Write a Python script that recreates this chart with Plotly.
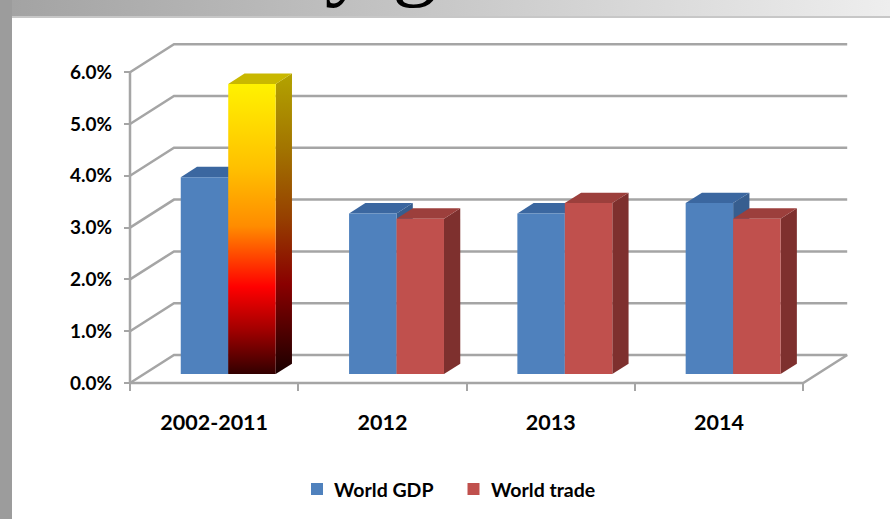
import plotly.graph_objects as go

# ---- data -------------------------------------------------------------
categories = ["2002-2011", "2012", "2013", "2014"]
world_gdp = [3.8, 3.1, 3.1, 3.3]      # % growth
world_trade = [5.6, 3.0, 3.3, 3.0]    # % growth
y_ticks = [0, 1, 2, 3, 4, 5, 6]
y_tick_labels = [f"{v:.1f}%" for v in y_ticks]
series_names = ["World GDP", "World trade"]

# ---- geometry ---------------------------------------------------------
W, H = 890, 519
X_RANGE = [-1.2724, 4.0157]   # one category = 168.3 px
Y_RANGE = [-2.6255, 7.3938]   # 1 % = 51.8 px

DX, DY = 0.2614, 0.5405       # depth vector of the 3-D box (data units)
F_FRONT, F_BACK = 0.32, 0.69  # bars sit in the middle of the depth
BAR_W = 0.282
X0, X1 = -0.5, len(categories) - 0.5

GRID = "#a5a5a5"
FONT = "Lato"

BLUE = dict(front="#4f81bd", top="#3b67a0", side="#375e8f")
RED = dict(front="#c0504d", top="#9c3f3c", side="#7e302e")
FIRE = dict(
    front=[[0, "#320000"], [0.15, "#a00000"], [0.30, "#ff0000"],
           [0.51, "#ff8c00"], [0.71, "#ffc000"], [1, "#fff200"]],
    side=[[0, "#1a0000"], [0.30, "#8a0000"], [0.52, "#964000"],
          [0.75, "#a27400"], [1, "#b3a300"]],
    top="#c9b800",
)


def xd(px):
    return X_RANGE[0] + px / W * (X_RANGE[1] - X_RANGE[0])


def yd(py):
    return Y_RANGE[1] - py / H * (Y_RANGE[1] - Y_RANGE[0])


fig = go.Figure()


def line(xs, ys, color=GRID, width=2.5):
    fig.add_trace(go.Scatter(x=xs, y=ys, mode="lines",
                             line=dict(color=color, width=width),
                             hoverinfo="skip", showlegend=False))


def poly(xs, ys, color=None, gradient=None, lo=None, hi=None, kind="vertical"):
    kw = dict(fill="toself", mode="lines", line=dict(width=0),
              hoverinfo="skip", showlegend=False)
    if gradient is not None:
        grad = dict(type=kind, colorscale=gradient)
        if lo is not None:
            grad.update(start=lo, stop=hi)
        kw["fillgradient"] = grad
        kw["fillcolor"] = gradient[-1][1]
    else:
        kw["fillcolor"] = color
    fig.add_trace(go.Scatter(x=xs + xs[:1], y=ys + ys[:1], **kw))


# window frame band at the top
poly([xd(0), xd(W), xd(W), xd(0)], [yd(0), yd(0), yd(16), yd(16)],
     gradient=[[0, "#a2a2a2"], [1, "#eeeeee"]], kind="horizontal")
line([xd(12), xd(W)], [yd(17), yd(17)], color="#b4b4b4", width=1.5)

# back wall grid lines with the diagonals on the side wall
for v in y_ticks:
    line([X0, X0 + DX, X1 + DX], [v, v + DY, v + DY])

# floor and front edges
line([X0, X1, X1 + DX], [0, 0, DY])
line([X0, X0], [0, y_ticks[-1]])


def box(xl, xr, v, style, gradient=False):
    b = F_FRONT * DY
    ddx = (F_BACK - F_FRONT) * DX
    ddy = (F_BACK - F_FRONT) * DY
    side_x = [xr, xr + ddx, xr + ddx, xr]
    side_y = [b, b + ddy, b + v + ddy, b + v]
    top_x = [xl, xr, xr + ddx, xl + ddx]
    top_y = [b + v, b + v, b + v + ddy, b + v + ddy]
    front_x = [xl, xr, xr, xl]
    front_y = [b, b, b + v, b + v]
    if gradient:
        poly(side_x, side_y, gradient=style["side"], lo=b, hi=b + v + ddy)
        poly(top_x, top_y, color=style["top"])
        poly(front_x, front_y, gradient=style["front"], lo=b, hi=b + v)
    else:
        poly(side_x, side_y, color=style["side"])
        poly(top_x, top_y, color=style["top"])
        poly(front_x, front_y, color=style["front"])


for i, (g, t) in enumerate(zip(world_gdp, world_trade)):
    c = i + F_FRONT * DX
    box(c - BAR_W, c, g, BLUE)
    if i == 0:
        box(c, c + BAR_W, t, FIRE, gradient=True)
    else:
        box(c, c + BAR_W, t, RED)

# legend keys and labels below the chart
legend_key_px = [317, 473.5]
legend_text_px = [332, 489]
legend_notes = []
for name, col, kx, tx in zip(series_names, [BLUE["front"], RED["front"]],
                             legend_key_px, legend_text_px):
    fig.add_trace(go.Scatter(x=[xd(kx)], y=[yd(489)], mode="markers",
                             marker=dict(symbol="square", size=12, color=col),
                             hoverinfo="skip", showlegend=False))
    legend_notes.append(dict(text=name, x=xd(tx), y=yd(489), xref="x", yref="y",
                             xanchor="left", yanchor="middle", showarrow=False,
                             font=dict(family=FONT, size=19.5, color="black",
                                       weight="bold")))

fig.update_layout(
    width=W, height=H,
    margin=dict(l=0, r=0, t=0, b=0),
    paper_bgcolor="white", plot_bgcolor="white",
    showlegend=False,
    xaxis=dict(range=X_RANGE, anchor="free", position=(H - 383) / H,
               showgrid=False, zeroline=False, showline=False,
               tickmode="array", tickvals=list(range(len(categories))),
               ticktext=categories, ticks="", ticklabelstandoff=24,
               tickfont=dict(family=FONT, size=21.5, color="black", weight="bold"),
               minor=dict(tickmode="array",
                          tickvals=[k - 0.5 for k in range(len(categories) + 1)],
                          ticks="outside", ticklen=7, tickwidth=2, tickcolor=GRID),
               fixedrange=True),
    yaxis=dict(range=Y_RANGE, anchor="free", position=130 / W,
               showgrid=False, zeroline=False, showline=False,
               tickmode="array", tickvals=y_ticks, ticktext=y_tick_labels,
               ticks="outside", ticklen=6, tickwidth=2,
               tickcolor=GRID, ticklabelstandoff=8,
               tickfont=dict(family=FONT, size=19, color="black", weight="bold"),
               fixedrange=True),
    shapes=[dict(type="rect", xref="paper", yref="paper", x0=0, x1=12 / W,
                 y0=0, y1=1, fillcolor="#9c9c9c", line=dict(width=0))],
    annotations=legend_notes + [
        dict(text="Yearly growth", xref="paper", yref="paper",
             x=132 / W, xanchor="left", y=1 - 17 / H, yanchor="bottom",
             yshift=7, showarrow=False,
             font=dict(family="Liberation Serif", size=90, color="black"))],
)

fig.write_html("out.html")
